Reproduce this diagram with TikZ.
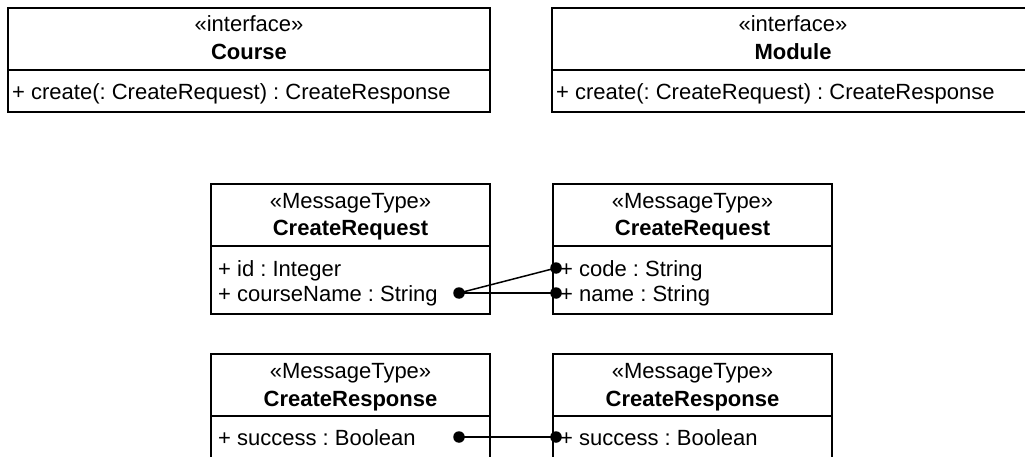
\documentclass[tikz,border=0pt]{standalone}
\usepackage{fontspec}
\setmainfont{Liberation Sans}
\frenchspacing
\begin{document}
\begin{tikzpicture}[x=1pt,y=-1pt,
  box/.style={draw=black, line width=1.6pt},
  sep/.style={line width=1.6pt},
  stereo/.style={font=\fontsize{22}{26}\selectfont, anchor=base, inner sep=0pt},
  cname/.style={font=\fontsize{22}{26}\selectfont\bfseries, anchor=base, inner sep=0pt},
  attr/.style={font=\fontsize{22}{26}\selectfont, anchor=base west, inner sep=0pt},
  dot/.style={circle, fill=black, minimum size=11.5pt, inner sep=0pt},
  link/.style={line width=1.5pt}]
\useasboundingbox (0,0) rectangle (1025,457);
\begin{scope}
\clip (0,0) rectangle (1025,457);
% Course interface
\draw[box] (8,8) rectangle (490,112);
\draw[sep] (8,70) -- (490,70);
\node[stereo] (cst) at (249,32) {«interface»};
\node[cname] (cnm) at (249,60) {Course};
\node[attr] (cop) at (12,100) {+ create(: CreateRequest) : CreateResponse};
% Module interface
\draw[box] (552,8) rectangle (1034,112);
\draw[sep] (552,70) -- (1034,70);
\node[stereo] (mst) at (793,32) {«interface»};
\node[cname] (mnm) at (793,60) {Module};
\node[attr] (mop) at (556,100) {+ create(: CreateRequest) : CreateResponse};
% CreateRequest (left)
\draw[box] (211,184) rectangle (490,314);
\draw[sep] (211,246) -- (490,246);
\node[stereo] (rqlst) at (350.5,208) {«MessageType»};
\node[cname] (rqlnm) at (350.5,236) {CreateRequest};
\node[attr] (rqlid) at (218,276) {+ id : Integer};
\node[attr] (rqlcn) at (218,301) {+ courseName : String};
% CreateRequest (right)
\draw[box] (553,184) rectangle (832,314);
\draw[sep] (553,246) -- (832,246);
\node[stereo] (rqrst) at (692.5,208) {«MessageType»};
\node[cname] (rqrnm) at (692.5,236) {CreateRequest};
\node[attr] (rqrcode) at (560,276) {+ code : String};
\node[attr] (rqrname) at (560,301) {+ name : String};
% CreateResponse (left)
\draw[box] (211,354) rectangle (490,470);
\draw[sep] (211,416) -- (490,416);
\node[stereo] (rslst) at (350.5,378) {«MessageType»};
\node[cname] (rslnm) at (350.5,406) {CreateResponse};
\node[attr] (rslsu) at (218,445) {+ success : Boolean};
% CreateResponse (right)
\draw[box] (553,354) rectangle (832,470);
\draw[sep] (553,416) -- (832,416);
\node[stereo] (rsrst) at (692.5,378) {«MessageType»};
\node[cname] (rsrnm) at (692.5,406) {CreateResponse};
\node[attr] (rsrsu) at (560,445) {+ success : Boolean};
% dots
\node[dot] (dcn) at (459,293) {};
\node[dot] (dcode) at (556,268) {};
\node[dot] (dname) at (556,293) {};
\node[dot] (dsl) at (459,437) {};
\node[dot] (dsr) at (556,437) {};
% connectors
\draw[link] (dcn.center) -- (dcode.center);
\draw[link] (dcn.center) -- (dname.center);
\draw[link] (dsl.center) -- (dsr.center);
\end{scope}
\end{tikzpicture}
\end{document}
